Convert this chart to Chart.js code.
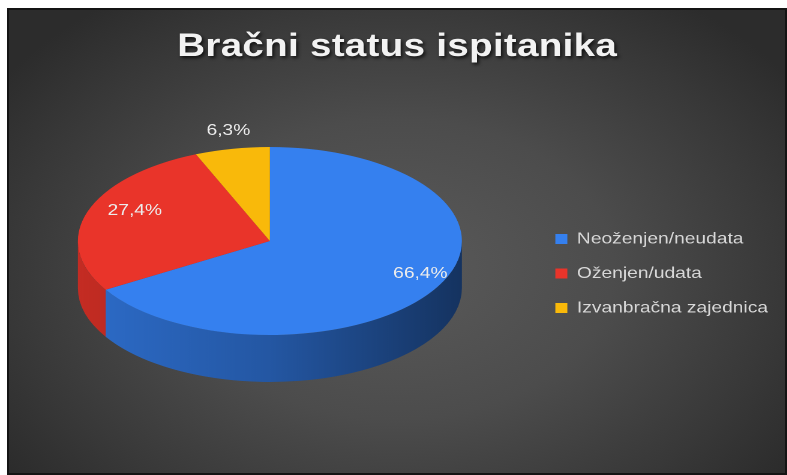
<!DOCTYPE html>
<html>
<head>
<meta charset="utf-8">
<script src="https://cdn.jsdelivr.net/npm/chart.js@4.4.1/dist/chart.umd.min.js"></script>
<style>
  html, body { margin: 0; padding: 0; background: #fff; }
  body { width: 787px; height: 475px; position: relative; overflow: hidden; }
  #panel {
    position: absolute; left: 7px; top: 8px; width: 776px; height: 463px;
    border: 2px solid #141414;
    background: radial-gradient(ellipse 62% 72% at 50% 56%, #5a5a5a 0%, #4c4c4c 45%, #383838 80%, #2c2c2c 100%);
  }
  /* the original picture is stretched sideways, so the chart is too */
  #wrap { position: absolute; left: 0; top: 0; width: 656px; height: 475px; transform: scaleX(1.2); transform-origin: 0 0; }
</style>
</head>
<body>
<div id="panel"></div>
<div id="wrap"><canvas id="chart"></canvas></div>
<script>
const chartTitle = 'Bračni status ispitanika';
const categories = ['Neoženjen/neudata', 'Oženjen/udata', 'Izvanbračna zajednica'];
const shares = [66.4, 27.4, 6.3];
const sliceColors = ['#3580ef', '#e9342a', '#f9b90a'];

const FONT = '"Liberation Sans", Arial, sans-serif';
const TILT = 0.5875;  // vertical squash of the pie top
const DEPTH = 47;     // thickness of the pie side
const PIE_CY = 241;   // centre of the top face on the page
const labelRadius = [0.9, 0.74, 1.1];  // label distance from centre, fraction of radius

function shade(hex, f) {
    const n = parseInt(hex.slice(1), 16);
    const r = Math.round(((n >> 16) & 255) * f);
    const g = Math.round(((n >> 8) & 255) * f);
    const b = Math.round((n & 255) * f);
    return `rgb(${r}, ${g}, ${b})`;
}

function fmt(v) {
    return v.toFixed(1).replace('.', ',') + '%';
}

const pie3d = {
    id: 'pie3d',
    beforeDatasetsDraw(chart) {
        const ctx = chart.ctx;
        const arcs = chart.getDatasetMeta(0).data;
        if (!arcs.length) return;

        // side walls, only the front half is visible
        ctx.save();
        arcs.forEach((arc, i) => {
            const { x, startAngle, endAngle, outerRadius: r } =
                arc.getProps(['x', 'startAngle', 'endAngle', 'outerRadius'], true);
            const col = sliceColors[i];
            const grad = ctx.createLinearGradient(x - r, 0, x + r, 0);
            grad.addColorStop(0, shade(col, 0.84));
            grad.addColorStop(0.5, shade(col, 0.68));
            grad.addColorStop(1, shade(col, 0.4));
            for (let n = -1; n <= 1; n++) {
                const a = Math.max(startAngle, 2 * Math.PI * n);
                const b = Math.min(endAngle, Math.PI + 2 * Math.PI * n);
                if (a >= b) continue;
                ctx.beginPath();
                ctx.ellipse(x, PIE_CY, r, r * TILT, 0, a, b);
                ctx.ellipse(x, PIE_CY + DEPTH, r, r * TILT, 0, b, a, true);
                ctx.closePath();
                ctx.fillStyle = grad;
                ctx.fill();
            }
        });
        ctx.restore();

        // squash the library's own arcs into the top face
        const first = arcs[0];
        ctx.save();
        ctx.translate(first.x, PIE_CY);
        ctx.scale(1, TILT);
        ctx.translate(-first.x, -first.y);
    },
    afterDatasetsDraw(chart) {
        const ctx = chart.ctx;
        const arcs = chart.getDatasetMeta(0).data;
        if (!arcs.length) return;
        ctx.restore();

        // labels sit around the perspective apex, a bit above the ellipse centre
        ctx.save();
        ctx.font = '16px ' + FONT;
        ctx.fillStyle = '#ececec';
        ctx.textAlign = 'center';
        ctx.textBaseline = 'middle';
        arcs.forEach((arc, i) => {
            const { x, startAngle, endAngle, outerRadius: r } =
                arc.getProps(['x', 'startAngle', 'endAngle', 'outerRadius'], true);
            const mid = (startAngle + endAngle) / 2;
            const f = labelRadius[i];
            ctx.fillText(fmt(shares[i]), x + f * r * Math.cos(mid), PIE_CY - 9 + f * r * TILT * Math.sin(mid));
        });
        ctx.restore();
    },
    afterDraw(chart) {
        const ctx = chart.ctx;
        ctx.save();
        ctx.font = 'bold 32px ' + FONT;
        ctx.letterSpacing = '0.3px';
        ctx.textAlign = 'center';
        ctx.textBaseline = 'alphabetic';
        ctx.shadowColor = 'rgba(0, 0, 0, 0.75)';
        ctx.shadowOffsetX = 3;
        ctx.shadowOffsetY = 4;
        ctx.shadowBlur = 6;
        ctx.fillStyle = '#f2f2f2';
        ctx.fillText(chartTitle, 331, 56);
        ctx.restore();
    }
};

new Chart(document.getElementById('chart'), {
    type: 'pie',
    data: {
        labels: categories,
        datasets: [{
            data: shares,
            backgroundColor: sliceColors,
            borderWidth: 0,
            radius: 160,
            clip: false
        }]
    },
    options: {
        responsive: true,
        maintainAspectRatio: false,
        devicePixelRatio: 2,
        animation: false,
        events: [],
        layout: { padding: { top: 74, bottom: 2, left: 5.5, right: 6 } },
        plugins: {
            legend: {
                position: 'right',
                labels: {
                    color: '#d8d8d8',
                    font: { size: 16, family: FONT },
                    boxWidth: 10,
                    boxHeight: 10,
                    padding: 18.5
                }
            },
            tooltip: { enabled: false }
        }
    },
    plugins: [pie3d]
});
</script>
</body>
</html>
